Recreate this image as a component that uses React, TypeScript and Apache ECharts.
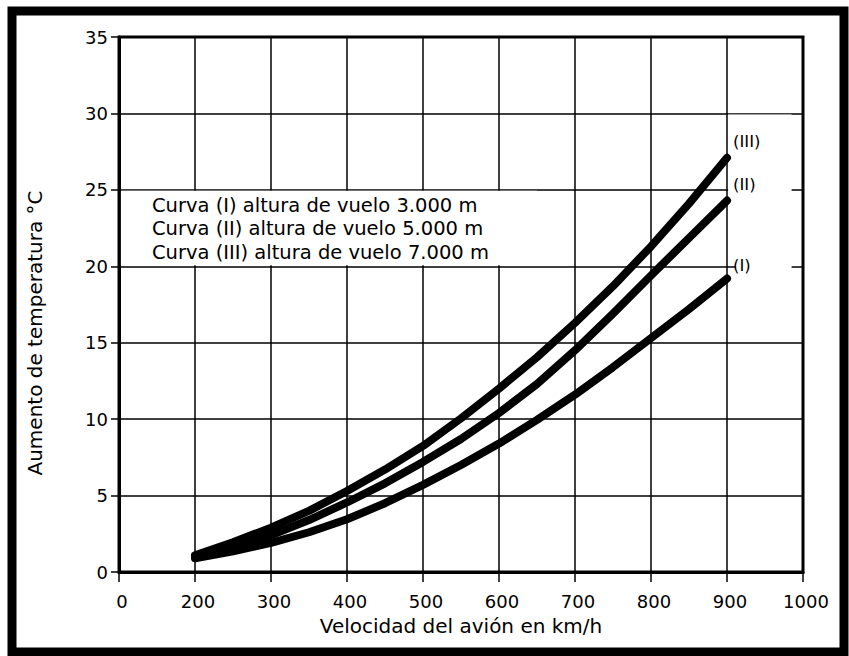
import React, { useEffect, useRef } from "react";
import * as echarts from "echarts";

// Speed (km/h) — note the x axis is broken: its first division is labelled "0" but sits where 100 would be
const speeds = [200, 250, 300, 350, 400, 450, 500, 550, 600, 650, 700, 750, 800, 850, 900];
// Temperature rise (°C)
const curveI = [0.9, 1.35, 1.9, 2.6, 3.45, 4.5, 5.7, 7.0, 8.4, 9.95, 11.6, 13.4, 15.3, 17.2, 19.2]; // 3.000 m
const curveII = [1.0, 1.65, 2.4, 3.4, 4.55, 5.8, 7.2, 8.7, 10.4, 12.3, 14.5, 16.9, 19.4, 21.85, 24.3]; // 5.000 m
const curveIII = [1.1, 1.95, 2.9, 4.0, 5.3, 6.7, 8.25, 10.05, 12.0, 14.05, 16.3, 18.7, 21.3, 24.1, 27.1]; // 7.000 m

const seriesNames = ["(I)", "(II)", "(III)"];
const legendLines = [
  "Curva (I) altura de vuelo 3.000 m",
  "Curva (II) altura de vuelo 5.000 m",
  "Curva (III) altura de vuelo 7.000 m",
];
const xAxisBreakValue = 100; // shown as "0"
const xMax = 1000;
const yMax = 35;
const xTitle = "Velocidad del avión en km/h";
const yTitle = "Aumento de temperatura °C";

const FONT = "DejaVu Sans";
const INK = "#000";

export default function App() {
  const ref = useRef<HTMLDivElement>(null);

  useEffect(() => {
    const chart = echarts.init(ref.current!, null, { renderer: "svg" });
    const mk = (vals: number[]) => speeds.map((s, i) => [s, vals[i]]);
    const endOffsets: number[][] = [
      [0, -13],
      [0, -16],
      [0, -16],
    ];
    const datasets = [curveI, curveII, curveIII];

    const series: any[] = datasets.map((vals, k) => ({
      type: "line",
      name: seriesNames[k],
      data: mk(vals),
      smooth: false,
      symbol: "none",
      lineStyle: { color: "#000", width: 8, cap: "round", join: "round" },
      endLabel: {
        show: true,
        formatter: seriesNames[k],
        offset: endOffsets[k],
        fontFamily: FONT,
        fontSize: 16.5,
        color: INK,
        distance: 6,
      },
      z: 3,
    }));

    series[0].markArea = {
      silent: true,
      z: 1,
      itemStyle: { color: "#fff", opacity: 1, borderWidth: 0 },
      label: { show: false },
      data: [
        [{ coord: [102.5, 20.06] }, { coord: [650, 24.94] }],
        [{ coord: [901.5, 20.06] }, { coord: [985, 29.93] }],
        [{ coord: [911, 15.07] }, { coord: [985, 20.06] }],
      ],
    };

    chart.setOption({
      animation: false,
      backgroundColor: "#fff",
      grid: {
        left: 119,
        right: 46,
        top: 37,
        bottom: 84,
        show: true,
        borderColor: "#000",
        borderWidth: 3,
        backgroundColor: "transparent",
      },
      xAxis: {
        type: "value",
        min: xAxisBreakValue,
        max: xMax,
        interval: 100,
        name: xTitle,
        nameLocation: "middle",
        nameGap: 44,
        nameTextStyle: { fontFamily: FONT, fontSize: 20, color: INK },
        axisLine: { lineStyle: { color: "#000", width: 3 } },
        axisTick: { show: true, length: 10, lineStyle: { color: "#000", width: 1.5 } },
        axisLabel: {
          fontFamily: FONT,
          fontSize: 18,
          color: INK,
          margin: 20,
          padding: [0, 0, 0, 6],
          formatter: (v: number) => (v === xAxisBreakValue ? "0" : String(v)),
        },
        splitLine: { show: true, lineStyle: { color: "#000", width: 1.5 } },
      },
      yAxis: {
        type: "value",
        min: 0,
        max: yMax,
        interval: 5,
        axisLine: { show: true, lineStyle: { color: "#000", width: 3 } },
        axisTick: { show: true, length: 8, lineStyle: { color: "#000", width: 1.5 } },
        axisLabel: { fontFamily: FONT, fontSize: 18, color: INK, margin: 11 },
        splitLine: { show: true, lineStyle: { color: "#000", width: 1.5 } },
      },
      graphic: [
        {
          type: "rect",
          shape: { x: 12, y: 11, width: 832, height: 641 },
          style: { fill: "none", stroke: "#000", lineWidth: 9 },
          silent: true,
          z: 10,
        },
        {
          type: "text",
          x: 35,
          y: 333,
          rotation: Math.PI / 2,
          style: {
            text: yTitle,
            fontFamily: FONT,
            fontSize: 20,
            fill: INK,
            align: "center",
            verticalAlign: "middle",
          },
          z: 10,
        },
        {
          type: "text",
          x: 152,
          y: 228.5,
          style: {
            text: legendLines.join("\n"),
            fontFamily: FONT,
            fontSize: 19.5,
            lineHeight: 23.5,
            fill: INK,
            align: "left",
            verticalAlign: "middle",
          },
          z: 10,
        },
      ],
      series,
    });
    return () => chart.dispose();
  }, []);

  return (
    <div
      ref={ref}
      style={{ position: "absolute", left: 0, top: 0, width: 849, height: 656, background: "#fff" }}
    />
  );
}
